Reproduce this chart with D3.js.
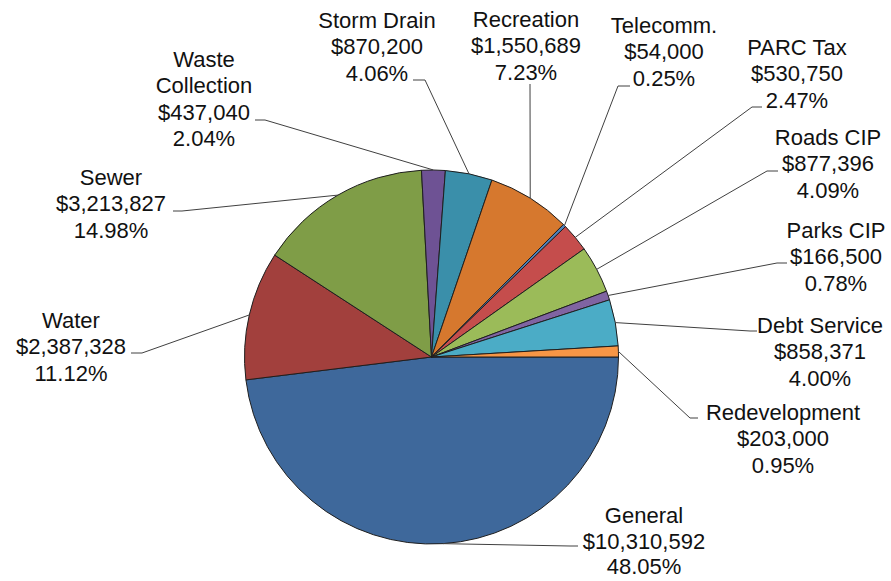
<!DOCTYPE html>
<html>
<head>
<meta charset="utf-8">
<script src="https://cdn.jsdelivr.net/npm/d3@7"></script>
<style>
  html, body { margin: 0; padding: 0; background: #fff; }
  svg { display: block; }
</style>
</head>
<body>
<svg id="chart" width="891" height="581"></svg>
<script>
// ---- data ----
const categories = ["General", "Water", "Sewer", "Waste Collection", "Storm Drain", "Recreation",
  "Telecomm.", "PARC Tax", "Roads CIP", "Parks CIP", "Debt Service", "Redevelopment"];
const amounts = [10310592, 2387328, 3213827, 437040, 870200, 1550689,
  54000, 530750, 877396, 166500, 858371, 203000];
const percents = ["48.05%", "11.12%", "14.98%", "2.04%", "4.06%", "7.23%",
  "0.25%", "2.47%", "4.09%", "0.78%", "4.00%", "0.95%"];

// ---- style / layout ----
const colors = ["#3E689B", "#A2403D", "#7F9D47", "#6E5294", "#3A8FAA", "#D6782E",
  "#4F81BD", "#C54D4C", "#9BBB59", "#8064A2", "#4BACC6", "#F79646"];
// label layout: centre x, first baseline, line step, elbow point, end of horizontal stub, name wrapping
const labelLayout = [
  {cx: 644, y0: 523, step: 25.5, ex: 570, ey: 546, hx: 578},
  {cx: 71,  y0: 328, ex: 142, ey: 353, hx: 131},
  {cx: 111, y0: 185, ex: 182, ey: 211, hx: 173},
  {cx: 204, y0: 67,  ex: 265, ey: 120, hx: 255, wrap: true},
  {cx: 377, y0: 28,  ex: 425, ey: 80,  hx: 413},
  {cx: 526, y0: 27,  ex: 530, ey: 84,  hx: 530},
  {cx: 664, y0: 33,  ex: 618, ey: 86,  hx: 630},
  {cx: 797, y0: 55,  ex: 752, ey: 107, hx: 762},
  {cx: 828, y0: 145, ex: 767, ey: 171, hx: 778},
  {cx: 836, y0: 238, ex: 777, ey: 263, hx: 787},
  {cx: 820, y0: 333, ex: 750, ey: 331, hx: 757},
  {cx: 783, y0: 420, ex: 690, ey: 418, hx: 698}
];

const cx = 431.5, cy = 357, R = 187;
const lineH = 26.4;

const data = categories.map((c, i) => ({name: c, value: amounts[i], pct: percents[i], i}));

const svg = d3.select("#chart");
const g = svg.append("g").attr("transform", `translate(${cx},${cy})`);

const pie = d3.pie().sort(null).value(d => d.value)
  .startAngle(Math.PI / 2).endAngle(Math.PI / 2 + 2 * Math.PI);
const arcs = pie(data);

const arc = d3.arc().innerRadius(0).outerRadius(R);

g.selectAll("path.slice").data(arcs).enter().append("path")
  .attr("class", "slice")
  .attr("d", arc)
  .attr("fill", d => colors[d.data.i])
  .attr("stroke", "#1f1f1f")
  .attr("stroke-width", 1)
  .attr("stroke-linejoin", "round");

const fmt = d3.format("$,");

// leader lines
svg.selectAll("polyline.leader").data(arcs).enter().append("polyline")
  .attr("class", "leader")
  .attr("fill", "none")
  .attr("stroke", "#404040")
  .attr("stroke-width", 1)
  .attr("points", d => {
    const L = labelLayout[d.data.i];
    const a = (d.startAngle + d.endAngle) / 2;
    const ax = cx + R * Math.sin(a), ay = cy - R * Math.cos(a);
    return [[ax, ay], [L.ex, L.ey], [L.hx, L.ey]].map(p => p.join(",")).join(" ");
  });

// labels
const lbl = svg.selectAll("text.lbl").data(arcs).enter().append("text")
  .attr("class", "lbl")
  .attr("text-anchor", "middle")
  .attr("font-family", "'Liberation Sans', Arial, sans-serif")
  .attr("font-size", "22px")
  .attr("fill", "#111");

lbl.each(function(d) {
  const L = labelLayout[d.data.i];
  const step = L.step || lineH;
  const nameLines = L.wrap ? d.data.name.split(" ") : [d.data.name];
  const lines = nameLines.concat([fmt(d.data.value), d.data.pct]);
  const t = d3.select(this);
  lines.forEach((s, k) => {
    t.append("tspan").attr("x", L.cx).attr("y", L.y0 + k * step).text(s);
  });
});
</script>
</body>
</html>
